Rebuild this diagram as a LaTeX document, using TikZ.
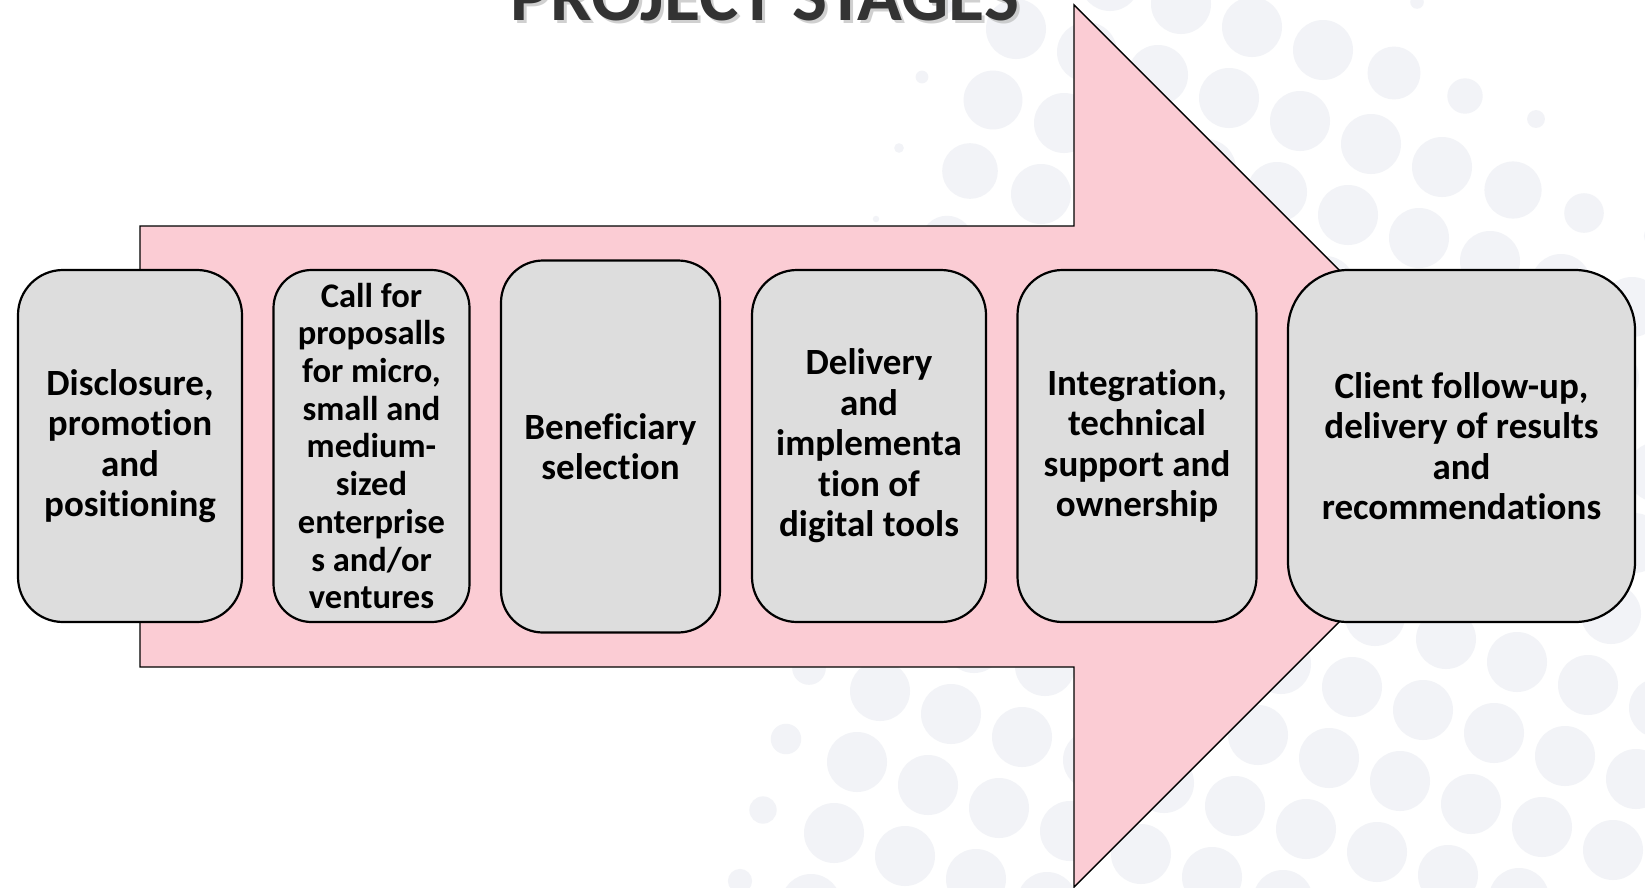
\documentclass[tikz,border=0pt]{standalone}
\usepackage{fontspec}
\setmainfont{Carlito}[RawFeature={-liga;-clig;-calt;-dlig}]
\definecolor{pinkfill}{HTML}{FBCCD4}
\definecolor{boxfill}{HTML}{DDDDDD}
\definecolor{dotc}{HTML}{F2F3F7}
\definecolor{titlec}{HTML}{333333}
\tikzset{
  stagebox/.style={draw=black, line width=2.2pt, fill=boxfill, align=center,
    font=\bfseries\fontsize{37}{40.5}\selectfont, inner sep=2pt},
  arrowshape/.style={draw=black, line width=1.4pt, fill=pinkfill, line join=miter},
}
\begin{document}
\begin{tikzpicture}[x=1pt,y=-1pt]
\useasboundingbox (0,0) rectangle (1645,887);
\clip (0,0) rectangle (1645,887);
\fill[white] (0,0) rectangle (1645,887);
% halftone dots
\foreach \i in {-16,...,16}{
  \foreach \j in {-16,...,16}{
    \pgfmathsetmacro\xx{857+71*\i-23*\j}
    \pgfmathsetmacro\yy{762+23*\i+71*\j}
    \pgfmathsetmacro\ff{((\xx>-40)&&(\xx<1690)&&(\yy>-40)&&(\yy<930)) ? 30*min(1,max(0,(\xx-920+0.25*\yy)/100))*min(1,max(0,(\yy-0.9*(\xx-1450))/140)) : 0}
    \ifdim\ff pt>3pt
      \fill[dotc] (\xx,\yy) circle[radius=\ff];
    \fi
  }
}
% title
\node[anchor=base, text=gray!60, opacity=0.6, font=\bfseries\fontsize{74}{88}\selectfont] at (768,23) {PROJECT STAGES};
\node[anchor=base, text=titlec, font=\bfseries\fontsize{74}{88}\selectfont] (title) at (765,20) {PROJECT STAGES};
% big arrow
\draw[arrowshape] (140,226) -- (1074,226) -- (1074,5) -- (1515,446) -- (1074,887) -- (1074,667) -- (140,667) -- cycle;
% stages
\node[stagebox, minimum width=224, minimum height=352, rounded corners=45] (s1) at (130,446)
  {Disclosure,\\promotion\\and\\positioning};
\node[stagebox, minimum width=196, minimum height=352, rounded corners=38,
  font=\bfseries\fontsize{34.5}{37.7}\selectfont] (s2) at (371.5,446)
  {Call for\\proposalls\\for micro,\\small and\\medium-\\sized\\enterprise\\s and/or\\ventures};
\node[stagebox, minimum width=219, minimum height=372, rounded corners=42] (s3) at (610.5,446.5)
  {Beneficiary\\selection};
\node[stagebox, minimum width=234, minimum height=352, rounded corners=45] (s4) at (869,446)
  {Delivery\\and\\implementa\\tion of\\digital tools};
\node[stagebox, minimum width=239, minimum height=352, rounded corners=45] (s5) at (1137,446)
  {Integration,\\technical\\support and\\ownership};
\node[stagebox, minimum width=347, minimum height=352, rounded corners=60] (s6) at (1461.5,446)
  {Client follow-up,\\delivery of results\\and\\recommendations};
\end{tikzpicture}
\end{document}
